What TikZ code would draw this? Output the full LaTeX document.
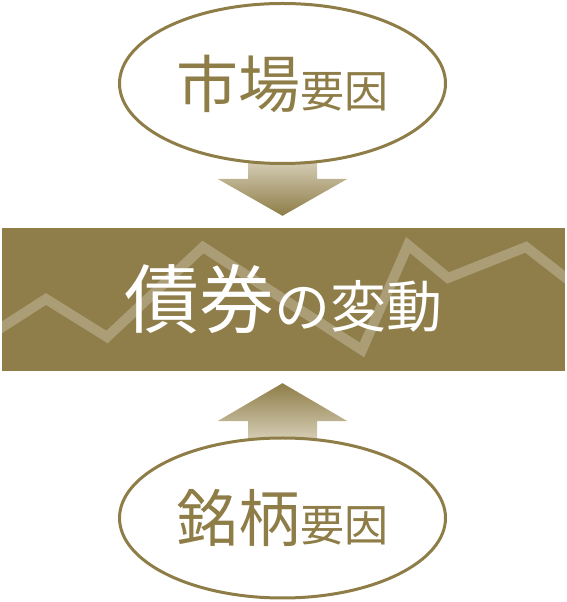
\documentclass[tikz,border=0pt]{standalone}
\usepackage{fontspec}
\newfontfamily\jpfont{Noto Sans CJK JP}
\usetikzlibrary{shapes.geometric,calc,backgrounds}
\definecolor{gold}{HTML}{8E7D47}
\definecolor{goldbox}{HTML}{8F7E4A}
\definecolor{goldpale}{HTML}{DED7C3}
\newcommand{\jpbig}[2]{{\fontsize{#1}{#1}\selectfont #2}}
\tikzset{
  factor/.style={ellipse, draw=gold, line width=3pt, fill=white, text=gold,
    minimum width=326pt, minimum height=160pt, inner sep=0pt, font=\jpfont},
  result/.style={rectangle, fill=goldbox, text=white,
    minimum width=563pt, minimum height=143pt, inner sep=0pt, font=\jpfont},
  trend/.style={draw=white, opacity=0.25, line width=10pt},
  flowdown/.style={top color=goldpale, bottom color=gold},
  flowup/.style={top color=gold, bottom color=goldpale},
}
\begin{document}
\begin{tikzpicture}[x=1pt, y=1pt]
  \useasboundingbox (0,0) rectangle (567,602);

  \node[factor] (market) at (282.5,518.5) {\jpbig{62}{市場}\jpbig{44}{要因}};
  \node[result] (bond) at (283.5,302.5) {\jpbig{75}{債券}\jpbig{56}{の変動}};
  \node[factor] (issue) at (282.5,84) {\jpbig{62}{銘柄}\jpbig{44}{要因}};

  % zigzag behind the title
  \begin{scope}
    \clip (bond.south west) rectangle (bond.north east);
    \draw[trend] (-10,267) -- (46,303) -- (107,265) -- (203,355) -- (362,252)
      -- (408,357) -- (448,324) -- (526,355) -- (580,313);
  \end{scope}

  % block arrows
  \coordinate (downtip) at ($(bond.north)+(-1,12)$);
  \coordinate (uptip) at ($(bond.south)+(-1,-12)$);
  \begin{pgfonlayer}{background}
    \shade[flowdown] (downtip) -- ++(65,37) -- ++(-30.5,0) -- ++(0,25)
      -- ++(-69,0) -- ++(0,-25) -- ++(-30.5,0) -- cycle;
    \shade[flowup] (uptip) -- ++(65,-38) -- ++(-30.5,0) -- ++(0,-25)
      -- ++(-69,0) -- ++(0,25) -- ++(-30.5,0) -- cycle;
  \end{pgfonlayer}
\end{tikzpicture}
\end{document}
